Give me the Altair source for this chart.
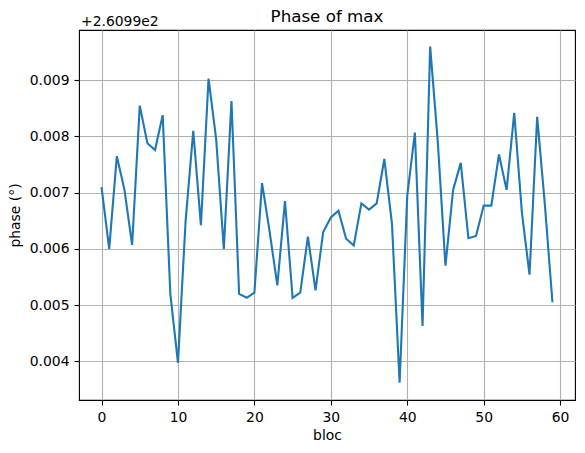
import altair as alt
import pandas as pd

# bloc index and phase (offset from 260.99 degrees)
bloc = list(range(60))
phase_offset = [
    0.00710, 0.00600, 0.00765, 0.00705, 0.00607, 0.00855, 0.00788, 0.00776, 0.00838, 0.00520,
    0.00397, 0.00650, 0.00810, 0.00642, 0.00903, 0.00795, 0.00600, 0.00863, 0.00520, 0.00513,
    0.00522, 0.00717, 0.00630, 0.00535, 0.00685, 0.00513, 0.00522, 0.00622, 0.00526, 0.00630,
    0.00656, 0.00668, 0.00618, 0.00606, 0.00681, 0.00670, 0.00681, 0.00760, 0.00645, 0.00362,
    0.00695, 0.00807, 0.00463, 0.00960, 0.00790, 0.00570, 0.00705, 0.00753, 0.00619, 0.00623,
    0.00677, 0.00677, 0.00768, 0.00705, 0.00842, 0.00665, 0.00554, 0.00835, 0.00680, 0.00505,
]
offset_label = ["+2.6099e2"]
title_text = ["Phase of max"]
x_ticks = [0, 10, 20, 30, 40, 50, 60]
y_ticks = [0.004, 0.005, 0.006, 0.007, 0.008, 0.009]

df = pd.DataFrame({"bloc": bloc, "phase": phase_offset})

FONT = "DejaVu Sans"

line = alt.Chart(df).mark_line(color="#1f77b4", strokeWidth=2.1, clip=True).encode(
    x=alt.X(
        "bloc:Q",
        scale=alt.Scale(domain=[-2.95, 61.95], nice=False, zero=False),
        axis=alt.Axis(
            values=x_ticks,
            format="d",
            title="bloc",
            titleX=248,
            titleY=39,
            titleBaseline="alphabetic",
            titleFontWeight="normal",
        ),
    ),
    y=alt.Y(
        "phase:Q",
        scale=alt.Scale(domain=[0.003311, 0.009895], nice=False, zero=False),
        axis=alt.Axis(
            values=y_ticks,
            format=".3f",
            title="phase (°)",
            titleAngle=-90,
            titleX=-59.5,
            titleY=185,
            titleAlign="center",
            titleBaseline="alphabetic",
            titleFontWeight="normal",
        ),
    ),
)

offset_text = alt.Chart(pd.DataFrame({"label": offset_label})).mark_text(
    align="left", baseline="alphabetic", fontSize=13.9, font=FONT, color="black"
).encode(
    text="label:N",
    x=alt.value(2),
    y=alt.value(-4),
)

title_mark = alt.Chart(pd.DataFrame({"t": title_text})).mark_text(
    align="center", baseline="alphabetic", fontSize=16.7, font=FONT, color="black"
).encode(
    text="t:N",
    x=alt.value(248),
    y=alt.value(-8),
)

chart = (
    alt.layer(line, offset_text, title_mark)
    .properties(
        width=496,
        height=370,
        autosize=alt.AutoSizeParams(type="none"),
        padding={"left": 71, "top": 22, "right": 2, "bottom": 45},
    )
    .configure_view(stroke="black", strokeWidth=1.1)
    .configure_axis(
        domain=False,
        grid=True,
        gridColor="#b0b0b0",
        gridWidth=1.1,
        ticks=True,
        tickColor="black",
        tickWidth=1.1,
        tickSize=5,
        labelPadding=5,
        labelFont=FONT,
        labelFontSize=13.9,
        labelColor="black",
        titleFont=FONT,
        titleFontSize=13.9,
        titleColor="black",
        labelFlush=False,
        labelOverlap=False,
    )
    .configure_axisY(labelBaseline="middle")
)

chart.save("out.html", embed_options={"renderer": "svg", "actions": False})
